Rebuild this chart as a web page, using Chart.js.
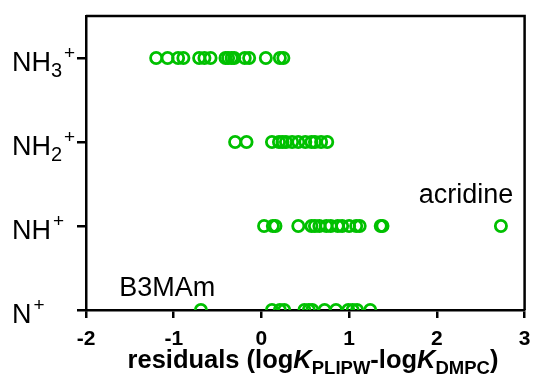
<!DOCTYPE html>
<html>
<head>
<meta charset="utf-8">
<script src="https://cdn.jsdelivr.net/npm/chart.js@4.4.1/dist/chart.umd.min.js"></script>
<style>
  html, body { margin: 0; padding: 0; background: #fff; }
  #wrap { width: 533px; height: 381px; }
</style>
</head>
<body>
<div id="wrap"><canvas id="c"></canvas></div>
<script>
// categorías (de abajo hacia arriba) y residuos
const categories = ['N+', 'NH+', 'NH2+', 'NH3+'];
const resN = [-0.69, 0.12, 0.21, 0.26, 0.49, 0.54, 0.58, 0.72, 0.85, 0.99, 1.04, 1.09, 1.24];
const resNH = [0.03, 0.13, 0.16, 0.42, 0.57, 0.61, 0.66, 0.74, 0.79, 0.87, 0.92, 1.00, 1.08, 1.12, 1.36, 1.38, 2.73];
const resNH2 = [-0.30, -0.17, 0.12, 0.20, 0.24, 0.28, 0.35, 0.42, 0.50, 0.57, 0.61, 0.68, 0.75];
const resNH3 = [-1.20, -1.07, -0.95, -0.89, -0.71, -0.65, -0.58, -0.41, -0.38, -0.34, -0.31, -0.19, -0.14, 0.05, 0.21, 0.25];
const xTicks = [-2, -1, 0, 1, 2, 3];
const yTicks = [0, 1, 2, 3];

const series = [resN, resNH, resNH2, resNH3];
const GREEN = '#00c000';
const FONT = "'Liberation Sans', Arial, sans-serif";

Chart.defaults.font.family = FONT;
Chart.defaults.color = '#000';

// etiquetas de categoría con sub/superíndices
const catParts = {
  'N+':   [['N', ''], ['+', 'sup']],
  'NH+':  [['NH', ''], ['+', 'sup']],
  'NH2+': [['NH', ''], ['2', 'sub'], ['+', 'sup']],
  'NH3+': [['NH', ''], ['3', 'sub'], ['+', 'sup']]
};

// etiquetas de compuestos concretos (texto, valor x, valor y, alineación)
const notes = [
  { text: 'acridine', x: 2.87, y: 1.27, align: 'right' },
  { text: 'B3MAm', x: -1.62, y: 0.165, align: 'left' }
];

const datasets = series.map((vals, i) => ({
  label: categories[i],
  data: vals.map(v => ({ x: v, y: i })),
  showLine: false,
  borderColor: GREEN,
  backgroundColor: 'rgba(0,0,0,0)',
  pointStyle: 'circle',
  pointRadius: 5.6,
  pointHoverRadius: 5.6,
  pointBorderWidth: 2.8,
  pointHoverBorderWidth: 2.8,
  pointBorderColor: GREEN,
  pointBackgroundColor: 'rgba(0,0,0,0)'
}));

const framePlugin = {
  id: 'frame',
  afterDraw(chart) {
    const { ctx, chartArea: a, scales } = chart;
    ctx.save();
    ctx.strokeStyle = '#000';
    ctx.lineWidth = 2.5;
    ctx.beginPath();
    ctx.moveTo(a.left, a.top);
    ctx.lineTo(a.right, a.top);
    ctx.lineTo(a.right, a.bottom);
    ctx.stroke();

    ctx.fillStyle = '#000';
    ctx.textBaseline = 'alphabetic';

    // etiquetas del eje x
    ctx.font = 'bold 21px ' + FONT;
    ctx.textAlign = 'center';
    xTicks.forEach(v => {
      ctx.fillText(String(v), scales.x.getPixelForValue(v), 345);
    });

    // etiquetas del eje y
    ctx.textAlign = 'left';
    categories.forEach((cat, i) => {
      const yb = scales.y.getPixelForValue(i) + 13;
      let x = 12;
      catParts[cat].forEach(([t, kind]) => {
        if (kind === '') {
          ctx.font = '27px ' + FONT;
          ctx.fillText(t, x, yb);
          x += ctx.measureText(t).width;
        } else if (kind === 'sub') {
          ctx.font = '20px ' + FONT;
          ctx.fillText(t, x, yb + 6);
          x += ctx.measureText(t).width;
        } else {
          ctx.font = '19px ' + FONT;
          ctx.fillText(t, x + 2, yb - 12);
        }
      });
    });

    // notas
    ctx.font = '27px ' + FONT;
    notes.forEach(n => {
      ctx.textAlign = n.align;
      ctx.fillText(n.text, scales.x.getPixelForValue(n.x), scales.y.getPixelForValue(n.y));
    });

    // título del eje x con subíndices
    const parts = [
      ['residuals (log', 'b'], ['K', 'bi'], ['PLIPW', 's'],
      ['-log', 'b'], ['K', 'bi'], ['DMPC', 's'], [')', 'b']
    ];
    const fontOf = k => k === 'b' ? 'bold 25.5px ' + FONT
      : k === 'bi' ? 'italic bold 25.5px ' + FONT : 'bold 18.5px ' + FONT;
    let w = 0;
    parts.forEach(([t, k]) => { ctx.font = fontOf(k); w += ctx.measureText(t).width; });
    let tx = 313 - w / 2;
    const ty = 368;
    ctx.textAlign = 'left';
    parts.forEach(([t, k]) => {
      ctx.font = fontOf(k);
      ctx.fillText(t, tx, k === 's' ? ty + 6 : ty);
      tx += ctx.measureText(t).width;
    });
    ctx.restore();
  }
};

new Chart(document.getElementById('c'), {
  type: 'scatter',
  data: { datasets },
  options: {
    responsive: true,
    maintainAspectRatio: false,
    animation: false,
    layout: { padding: { left: 0, right: 7, top: 16, bottom: 0 } },
    plugins: { legend: { display: false }, tooltip: { enabled: false } },
    scales: {
      x: {
        type: 'linear',
        min: -2, max: 3,
        afterBuildTicks: s => { s.ticks = xTicks.map(v => ({ value: v })); },
        afterFit: s => { s.height = 71; },
        grid: { display: true, drawOnChartArea: false, drawTicks: true, tickLength: 8, color: '#000', lineWidth: 2.5 },
        border: { display: true, color: '#000', width: 2.5 },
        ticks: { display: false }
      },
      y: {
        type: 'linear',
        min: 0, max: 3.5,
        afterBuildTicks: s => { s.ticks = yTicks.map(v => ({ value: v })); },
        afterFit: s => { s.width = 86; },
        grid: { display: true, drawOnChartArea: false, drawTicks: true, tickLength: 9, color: '#000', lineWidth: 2.5 },
        border: { display: true, color: '#000', width: 2.5 },
        ticks: { display: false }
      }
    }
  },
  plugins: [framePlugin]
});
</script>
</body>
</html>
